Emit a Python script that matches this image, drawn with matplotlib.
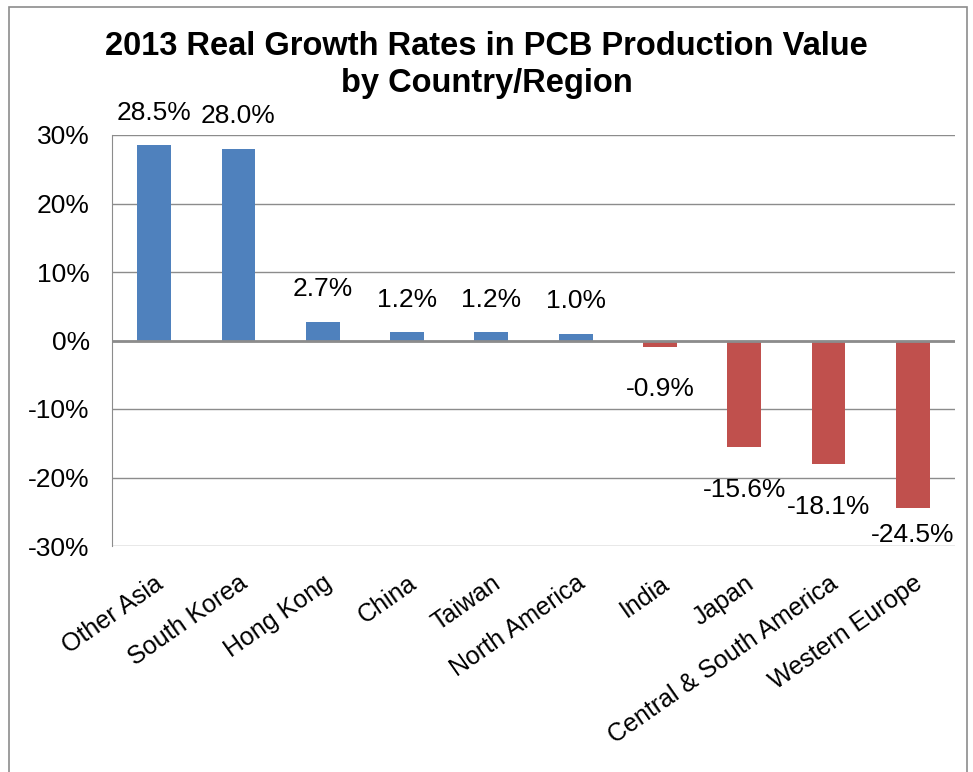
import matplotlib.pyplot as plt
from matplotlib.patches import Rectangle

plt.rcParams['font.family'] = ['Liberation Sans', 'DejaVu Sans']

regions = ["Other Asia", "South Korea", "Hong Kong", "China", "Taiwan",
           "North America", "India", "Japan", "Central & South America",
           "Western Europe"]
growth = [28.5, 28.0, 2.7, 1.2, 1.2, 1.0, -0.9, -15.6, -18.1, -24.5]

blue = "#4f81bd"
red = "#c0504d"

fig = plt.figure(figsize=(9.73, 7.72), dpi=100)
ax = fig.add_axes([112 / 973, 1 - 546 / 772, (955 - 112) / 973, (546 - 135) / 772])

# outer chart border
fig.patches.append(Rectangle((9 / 973, -0.01), (967 - 9) / 973, 1 - 7 / 772 + 0.01,
                             transform=fig.transFigure, fill=False,
                             edgecolor="#8c8c8c", linewidth=1.2))

x = list(range(len(regions)))
colors = [blue if v >= 0 else red for v in growth]
ax.bar(x, growth, width=0.4, color=colors, zorder=3)

for xi, v in zip(x, growth):
    if v >= 0:
        ax.text(xi, v + 3.0, f"{v:.1f}%", ha="center", va="bottom", fontsize=19)
    else:
        # label below the bar, kept inside the plot area at the bottom
        y = v - 4.5
        if y - 3.0 < -30:
            ax.text(xi, -30.2, f"{v:.1f}%", ha="center", va="bottom", fontsize=19)
        else:
            ax.text(xi, y, f"{v:.1f}%", ha="center", va="top", fontsize=19)

ax.set_xlim(-0.5, len(regions) - 0.5)
ax.set_ylim(-30, 30)
ax.set_yticks(range(-30, 31, 10))
ax.set_yticklabels([f"{t}%" for t in range(-30, 31, 10)], fontsize=19)
ax.set_xticks(x)
ax.set_xticklabels(regions, rotation=35, ha="right", rotation_mode="anchor", fontsize=18)
ax.tick_params(axis="y", length=0, pad=16)
ax.tick_params(axis="x", length=0, pad=18)

ax.grid(axis="y", color="#8c8c8c", linewidth=1, zorder=0)
ax.axhline(0, color="#8c8c8c", linewidth=2, zorder=4)
for side in ["right", "top", "bottom"]:
    ax.spines[side].set_visible(False)
ax.spines["left"].set_color("#8c8c8c")

fig.text(0.5, 1 - 65 / 772, "2013 Real Growth Rates in PCB Production Value\nby Country/Region",
         ha="center", va="center", fontsize=23.5, fontweight="bold", linespacing=1.25)

plt.savefig("out.png")
